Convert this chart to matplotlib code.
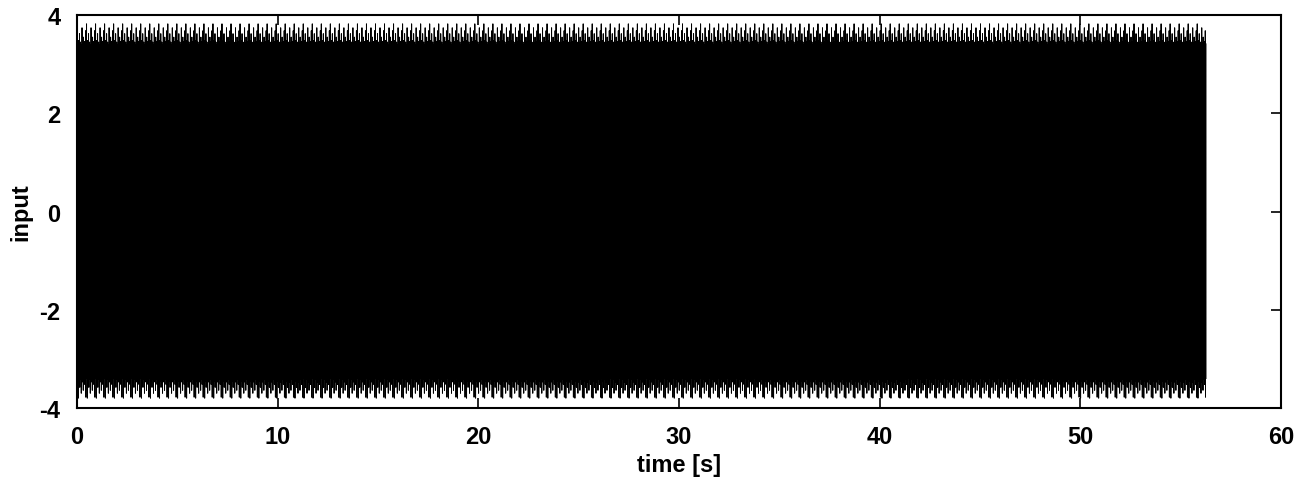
import numpy as np
import matplotlib
matplotlib.use("Agg")
import matplotlib.pyplot as plt

# ---- data ----
# one repeating period of the periodic (multisine) excitation: peak heights
upper_peaks = [3.42, 3.82, 3.35, 3.48, 3.38, 3.62, 3.33, 3.45, 3.40,
               3.36, 3.74, 3.44, 3.34, 3.55, 3.39, 3.46, 3.32, 3.68]
lower_peaks = [-3.40, -3.36, -3.80, -3.45, -3.34, -3.58, -3.42, -3.33, -3.70,
               -3.38, -3.47, -3.35, -3.64, -3.41, -3.37, -3.52, -3.44, -3.78]
peak_spacing = 0.025      # s between successive maxima
t_end = 56.3              # s, end of record
x_ticks = [0, 10, 20, 30, 40, 50, 60]
y_ticks = [-4, -2, 0, 2, 4]
x_label = "time [s]"
y_label = "input"

# ---- build signal from the period ----
n = int(t_end / peak_spacing)
t = np.empty(2 * n)
y = np.empty(2 * n)
t[0::2] = np.arange(n) * peak_spacing
t[1::2] = np.arange(n) * peak_spacing + peak_spacing / 2
y[0::2] = np.resize(upper_peaks, n)
y[1::2] = np.resize(lower_peaks, n)

plt.rcParams['font.family'] = ['Liberation Sans', 'DejaVu Sans']
plt.rcParams['axes.unicode_minus'] = False
fig = plt.figure(figsize=(13.1, 4.89), dpi=100)
ax = fig.add_axes([77/1310, 1 - 409/489, (1281 - 77)/1310, (409 - 16)/489])
ax.plot(t, y, color='black', lw=0.7)

ax.set_xlim(0, 60)
ax.set_ylim(-4, 4)
ax.set_xticks(x_ticks)
ax.set_yticks(y_ticks)
ax.tick_params(axis='both', direction='in', length=7, width=1.2, top=True, right=True,
               labelsize=17)
ax.tick_params(axis='x', pad=12)
ax.tick_params(axis='y', pad=12)
for lab in ax.get_xticklabels() + ax.get_yticklabels():
    lab.set_fontweight('bold')
for s in ax.spines.values():
    s.set_linewidth(1.5)
ax.set_xlabel(x_label, fontsize=17, fontweight='bold', labelpad=4)
ax.set_ylabel(y_label, fontsize=17, fontweight='bold', labelpad=5)

fig.savefig("out.png", dpi=100)
